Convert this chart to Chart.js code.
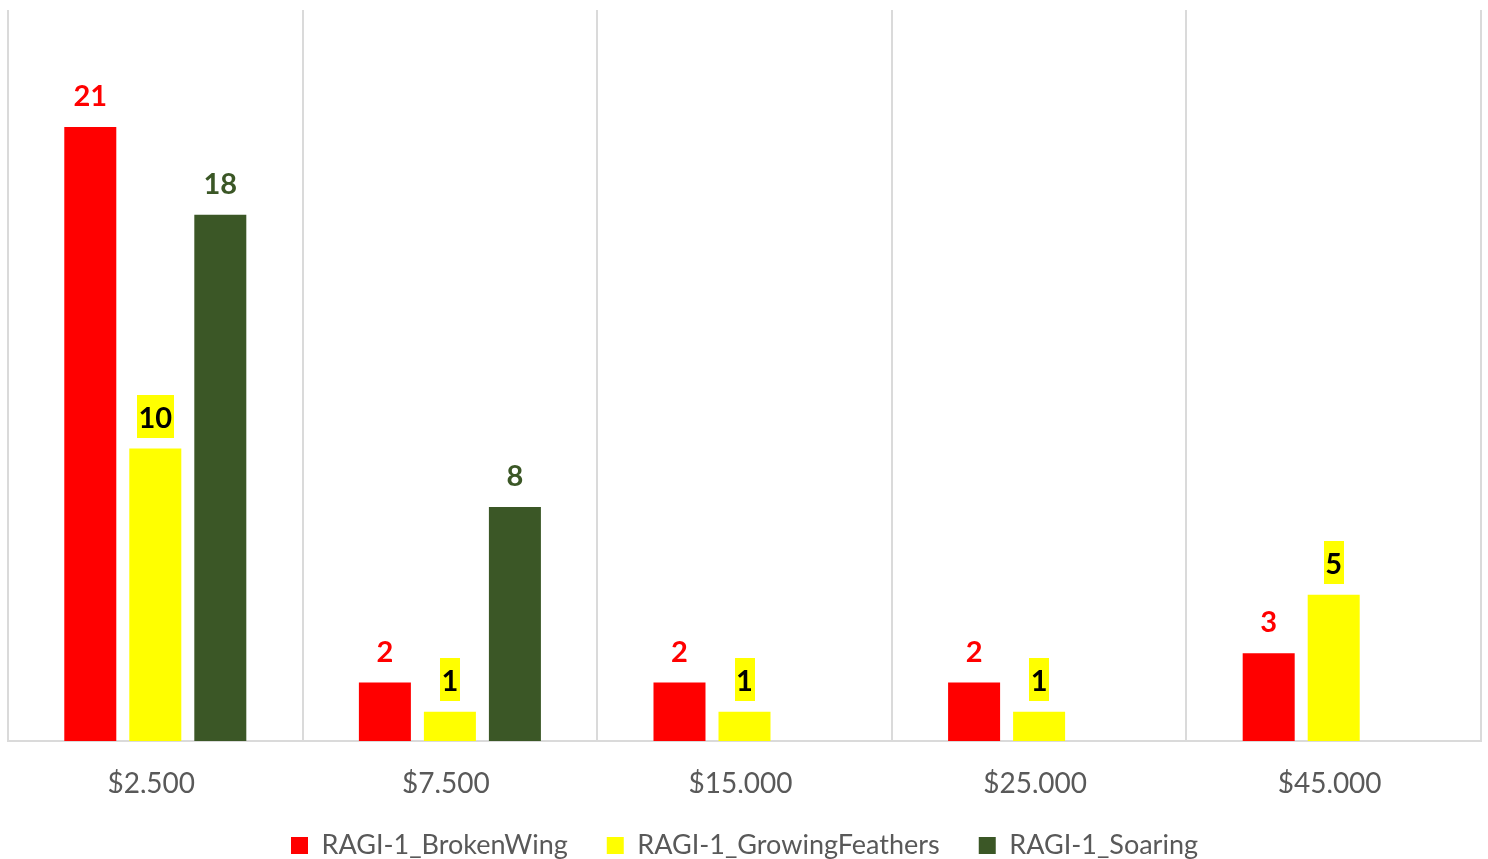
<!DOCTYPE html>
<html>
<head>
<meta charset="utf-8">
<script src="https://cdn.jsdelivr.net/npm/chart.js@4/dist/chart.umd.min.js"></script>
<style>
  html, body { margin: 0; padding: 0; background: #fff; }
  #wrap { width: 1488px; height: 859px; position: relative; }
</style>
</head>
<body>
<div id="wrap"><canvas id="c" width="1488" height="859"></canvas></div>
<script>
const categories = ['$2,500', '$7,500', '$15,000', '$25,000', '$45,000'];
const seriesNames = ['RAGI-1_BrokenWing', 'RAGI-1_GrowingFeathers', 'RAGI-1_Soaring'];
const brokenWing = [21, 2, 2, 2, 3];
const growingFeathers = [10, 1, 1, 1, 5];
const soaring = [18, 8, null, null, null];
const yMin = 0;
const yMax = 25;

const RED = '#FF0000';
const YELLOW = '#FFFF00';
const GREEN = '#3B5726';

const CANVAS_H = 859;
const PAD_BOTTOM = -10;
const AXIS_Y = 741;

const labelPlugin = {
  id: 'barLabels',
  afterDatasetsDraw(chart) {
    const ctx = chart.ctx;
    ctx.save();
    ctx.font = 'bold 29px Lato';
    ctx.textAlign = 'center';
    ctx.textBaseline = 'alphabetic';
    chart.data.datasets.forEach((ds, i) => {
      const meta = chart.getDatasetMeta(i);
      if (meta.hidden) return;
      meta.data.forEach((bar, j) => {
        const v = ds.data[j];
        if (v === null || v === undefined) return;
        const txt = String(v);
        const x = bar.x;
        const top = bar.y;
        const baseY = top - 21;
        if (ds.labelBg) {
          const w = ctx.measureText(txt).width + 3;
          ctx.fillStyle = ds.labelBg;
          ctx.fillRect(Math.round(x - w / 2), Math.round(top - 54), Math.round(w), 43);
        }
        ctx.fillStyle = ds.labelColor;
        ctx.fillText(txt, x, baseY);
      });
    });
    ctx.restore();
  }
};

new Chart(document.getElementById('c'), {
  type: 'bar',
  data: {
    labels: categories,
    datasets: [
      { label: seriesNames[0], data: brokenWing, backgroundColor: RED, labelColor: RED },
      { label: seriesNames[1], data: growingFeathers, backgroundColor: YELLOW, labelColor: '#000000', labelBg: YELLOW },
      { label: seriesNames[2], data: soaring, backgroundColor: GREEN, labelColor: GREEN }
    ]
  },
  options: {
    responsive: false,
    animation: false,
    devicePixelRatio: 1,
    categoryPercentage: 0.662,
    barPercentage: 0.8,
    layout: { padding: { left: 8, right: 7, top: 10, bottom: PAD_BOTTOM } },
    scales: {
      x: {
        grid: { display: true, offset: true, color: '#DADADA', lineWidth: 2, drawTicks: false },
        border: { display: true, color: '#DADADA', width: 2 },
        ticks: { color: '#595959', font: { family: 'Lato', size: 28 }, padding: 26, labelOffset: -4 },
        afterFit(scale) {
          const lg = scale.chart.legend;
          if (lg && lg.height) {
            const legendTop = CANVAS_H - PAD_BOTTOM - lg.height;
            scale.height = legendTop - AXIS_Y;
          }
        }
      },
      y: {
        display: false,
        min: yMin,
        max: yMax
      }
    },
    plugins: {
      legend: {
        position: 'bottom',
        labels: {
          color: '#595959',
          font: { family: 'Lato', size: 27 },
          boxWidth: 17,
          boxHeight: 17,
          padding: 39
        }
      },
      tooltip: { enabled: false }
    }
  },
  plugins: [labelPlugin]
});
</script>
</body>
</html>
